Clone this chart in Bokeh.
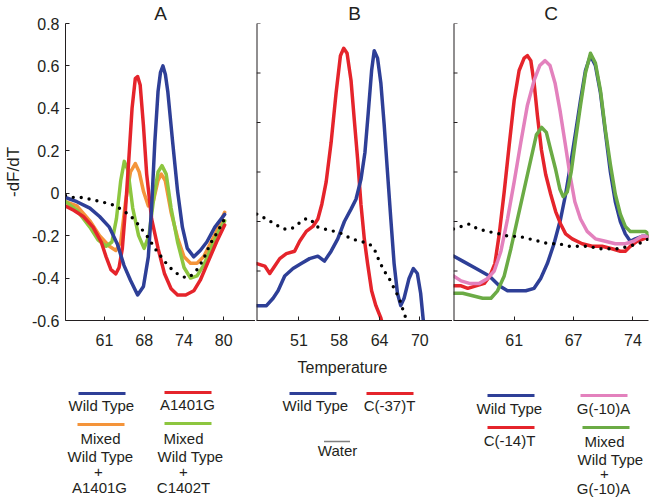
from bokeh.plotting import figure
from bokeh.layouts import row, column
from bokeh.models import Range1d, FixedTicker, Span, Title
from bokeh.embed import file_html
from bokeh.resources import INLINE
from bokeh.core.properties import value

FONT = "Liberation Sans"
INK = "#231f20"

BLUE = "#2e3f97"
RED = "#e5242b"
ORANGE = "#f4943a"
GREEN_A = "#8dc63f"
GREEN_C = "#6bab45"
PINK = "#e381bd"

# ---------------- Panel A ----------------
a_xticks = [61, 67.5, 74, 80.5]
a_xlabels = ["61", "68", "74", "80"]
a_yticks = [-0.6, -0.4, -0.2, 0, 0.2, 0.4, 0.6, 0.8]
a_ylabels = ["-0.6", "-0.4", "-0.2", "0", "0.2", "0.4", "0.6", "0.8"]

a_wt_t = [54.63, 56.49, 58.61, 60.20, 61.80, 63.12, 64.19, 65.25, 66.42, 67.37, 68.17, 68.70, 69.23,
          69.76, 70.16, 70.56, 70.96, 71.35, 72.15, 72.95, 73.74, 74.54, 75.60, 76.66, 77.73, 79.05, 80.65]
a_wt_v = [-0.02, -0.04, -0.07, -0.11, -0.16, -0.24, -0.34, -0.41, -0.48, -0.44, -0.30, -0.07, 0.24,
          0.48, 0.57, 0.60, 0.56, 0.48, 0.24, 0.01, -0.16, -0.26, -0.30, -0.27, -0.23, -0.16, -0.10]

a_mut_t = [54.63, 55.96, 57.55, 59.14, 60.47, 61.27, 62.06, 62.86, 63.39, 63.92, 64.45, 64.98, 65.51,
           66.04, 66.42, 66.84, 67.37, 67.90, 68.70, 69.76, 70.82, 71.89, 72.95, 74.28, 75.60, 76.66,
           77.99, 79.32, 80.65]
a_mut_v = [-0.06, -0.08, -0.11, -0.16, -0.23, -0.30, -0.36, -0.38, -0.35, -0.26, -0.07, 0.16, 0.40,
           0.54, 0.55, 0.51, 0.32, 0.09, -0.12, -0.26, -0.38, -0.45, -0.48, -0.48, -0.46, -0.41,
           -0.32, -0.23, -0.15]

a_mix1_t = [54.63, 56.49, 58.61, 60.20, 61.80, 62.86, 63.66, 64.45, 65.25, 66.04, 66.68, 67.37, 68.17,
            68.97, 69.76, 70.29, 70.93, 71.89, 72.95, 74.01, 75.07, 76.13, 77.20, 78.26, 79.32, 80.65]
a_mix1_v = [-0.04, -0.06, -0.13, -0.20, -0.25, -0.27, -0.23, -0.04, 0.10, 0.14, 0.10, 0.01, -0.06,
            -0.04, 0.06, 0.09, 0.06, -0.09, -0.21, -0.30, -0.33, -0.33, -0.30, -0.24, -0.18, -0.09]

a_mix2_t = [54.63, 56.49, 58.61, 59.94, 61.27, 62.22, 62.96, 63.66, 64.24, 64.82, 65.62, 66.58, 67.48,
            68.27, 69.07, 69.76, 70.40, 71.09, 71.89, 72.95, 74.01, 75.07, 76.13, 77.20, 78.26, 79.32, 80.65]
a_mix2_v = [-0.04, -0.08, -0.16, -0.22, -0.25, -0.23, -0.12, 0.06, 0.15, 0.11, -0.07, -0.20, -0.26,
            -0.20, -0.02, 0.10, 0.13, 0.09, -0.07, -0.23, -0.35, -0.40, -0.39, -0.34, -0.27, -0.20, -0.13]

a_water_t = [54.63, 55.96, 57.28, 58.88, 60.47, 61.80, 62.86, 63.92, 64.98, 66.04, 67.11, 68.17, 69.23,
             70.29, 71.35, 72.42, 73.48, 74.54, 75.60, 76.40, 77.20, 78.26, 79.32, 80.65]
a_water_v = [-0.01, -0.02, -0.02, -0.03, -0.04, -0.05, -0.06, -0.08, -0.10, -0.13, -0.17, -0.21, -0.26,
             -0.30, -0.34, -0.37, -0.39, -0.40, -0.38, -0.35, -0.31, -0.24, -0.19, -0.12]

# ---------------- Panel B ----------------
b_xticks = [51, 57.5, 64, 70.5]
b_xlabels = ["51", "58", "64", "70"]
bc_yticks = [-0.6, -0.4, -0.2, 0, 0.2, 0.4, 0.6]

b_wt_t = [44.2, 45.76, 46.83, 47.63, 48.70, 50.04, 51.37, 52.71, 54.05, 55.12, 56.19, 57.26, 58.33,
          59.40, 60.20, 61.00, 61.65, 62.18, 62.72, 63.14, 63.68, 64.21, 64.75, 65.28, 65.82, 66.35,
          66.89, 67.42, 67.96, 68.76, 69.46, 70.10, 70.63, 71.06, 71.28]
b_wt_v = [-0.54, -0.54, -0.51, -0.48, -0.42, -0.39, -0.37, -0.35, -0.34, -0.36, -0.32, -0.27, -0.20,
          -0.15, -0.11, -0.03, 0.08, 0.24, 0.41, 0.49, 0.46, 0.36, 0.19, 0.00, -0.19, -0.37,
          -0.49, -0.54, -0.51, -0.43, -0.39, -0.41, -0.49, -0.60, -0.65]

b_mut_t = [44.2, 45.49, 46.29, 47.10, 47.90, 48.97, 50.30, 51.11, 52.18, 53.25, 54.05, 54.69, 55.39,
           56.19, 56.99, 57.69, 58.22, 58.76, 59.40, 59.93, 60.47, 61.00, 61.54, 62.07, 62.72, 63.41,
           64.21, 64.75]
b_mut_v = [-0.37, -0.38, -0.41, -0.38, -0.35, -0.33, -0.32, -0.28, -0.24, -0.22, -0.19, -0.13, -0.04,
           0.12, 0.32, 0.47, 0.50, 0.48, 0.37, 0.21, 0.05, -0.13, -0.27, -0.37, -0.48, -0.54,
           -0.59, -0.64]

b_water_t = [44.2, 45.76, 47.10, 48.43, 49.77, 50.84, 51.91, 52.87, 53.78, 55.12, 56.72, 58.06, 59.40,
             61.00, 62.34, 63.14, 63.95, 64.75, 65.55, 66.35, 67.16, 67.69, 68.23, 68.49]
b_water_v = [-0.17, -0.19, -0.21, -0.23, -0.23, -0.21, -0.19, -0.19, -0.22, -0.23, -0.24, -0.25, -0.27,
             -0.28, -0.29, -0.31, -0.36, -0.40, -0.43, -0.47, -0.51, -0.55, -0.59, -0.61]

# ---------------- Panel C ----------------
c_xticks = [61, 67.5, 74]
c_xlabels = ["61", "67", "74"]

c_wt_t = [54.36, 55.37, 56.83, 58.28, 59.37, 60.27, 61.18, 62.27, 63.18, 63.90, 64.63, 65.36, 66.08,
          66.63, 67.17, 67.72, 68.26, 68.80, 69.35, 69.89, 70.44, 70.98, 71.53, 72.07, 72.62, 73.16,
          73.71, 74.25, 74.98, 75.70]
c_wt_v = [-0.34, -0.36, -0.39, -0.42, -0.46, -0.48, -0.48, -0.48, -0.47, -0.43, -0.37, -0.29, -0.19,
          -0.09, 0.03, 0.16, 0.29, 0.41, 0.47, 0.43, 0.32, 0.16, 0.00, -0.12, -0.20, -0.25,
          -0.28, -0.27, -0.26, -0.26]

c_m14_t = [54.36, 55.19, 55.92, 56.82, 57.73, 58.35, 58.89, 59.37, 59.91, 60.46, 61.00, 61.54, 62.09,
           62.45, 62.82, 63.18, 63.54, 63.98, 64.45, 65.00, 65.54, 66.08, 66.63, 67.35, 68.44, 69.53,
           70.62, 71.71, 72.62, 73.16, 73.71, 74.43, 75.16, 75.70]
c_m14_v = [-0.46, -0.46, -0.47, -0.46, -0.45, -0.42, -0.37, -0.25, -0.08, 0.11, 0.29, 0.41, 0.46,
           0.47, 0.45, 0.36, 0.23, 0.09, -0.01, -0.09, -0.16, -0.21, -0.25, -0.27, -0.29, -0.30,
           -0.30, -0.31, -0.32, -0.32, -0.30, -0.28, -0.27, -0.26]

c_m10_t = [54.36, 55.19, 56.10, 57.19, 58.10, 58.82, 59.55, 60.27, 61.00, 61.73, 62.45, 63.18, 63.80,
           64.38, 64.92, 65.47, 66.01, 66.56, 67.10, 67.64, 68.26, 68.99, 69.89, 70.98, 72.07, 73.16,
           74.07, 74.98, 75.70]
c_m10_v = [-0.42, -0.44, -0.45, -0.45, -0.43, -0.40, -0.32, -0.19, -0.04, 0.12, 0.27, 0.37, 0.43,
           0.45, 0.43, 0.36, 0.25, 0.12, -0.01, -0.12, -0.19, -0.24, -0.27, -0.28, -0.29, -0.29,
           -0.28, -0.26, -0.26]

c_mix_t = [54.36, 55.37, 56.46, 57.55, 58.46, 59.18, 59.91, 60.64, 61.36, 62.09, 62.82, 63.43, 64.01,
           64.52, 64.99, 65.54, 66.01, 66.37, 66.81, 67.24, 67.72, 68.26, 68.80, 69.35, 69.89, 70.44,
           70.98, 71.53, 72.07, 72.62, 73.16, 73.71, 74.61, 75.34, 75.70]
c_mix_v = [-0.49, -0.49, -0.50, -0.51, -0.51, -0.48, -0.42, -0.31, -0.19, -0.07, 0.05, 0.15, 0.18,
           0.16, 0.09, 0.01, -0.07, -0.10, -0.08, 0.00, 0.13, 0.27, 0.40, 0.48, 0.44, 0.33,
           0.17, 0.03, -0.09, -0.17, -0.22, -0.24, -0.24, -0.24, -0.25]

c_water_t = [54.36, 55.19, 56.10, 57.01, 58.10, 59.37, 60.46, 61.54, 62.63, 63.72, 64.81, 65.90, 66.99,
             68.08, 69.17, 70.26, 71.35, 72.44, 73.52, 74.61, 75.70]
c_water_v = [-0.23, -0.22, -0.21, -0.23, -0.24, -0.25, -0.26, -0.26, -0.27, -0.28, -0.29, -0.29, -0.30,
             -0.30, -0.30, -0.31, -0.31, -0.31, -0.30, -0.29, -0.27]


def make_panel(width, border_left, border_right, xr, yr, xticks, xlabels, yticks, ylabels,
               ttext, toffset):
    p = figure(width=width, height=350, x_range=Range1d(*xr), y_range=Range1d(*yr),
               output_backend="svg", toolbar_location=None, title=None,
               min_border_left=border_left, min_border_right=border_right,
               min_border_top=20, min_border_bottom=30)
    p.add_layout(Title(text=ttext, align="center", offset=toffset, text_font=FONT,
                       text_font_size="19px", text_font_style="normal", text_color=INK,
                       standoff=0), "above")
    p.outline_line_color = None
    p.grid.visible = False
    for ax in (p.xaxis[0], p.yaxis[0]):
        ax.axis_line_color = INK
        ax.axis_line_width = 1
        ax.major_tick_line_color = INK
        ax.major_tick_in = 4
        ax.major_tick_out = 0
        ax.minor_tick_line_color = None
        ax.major_label_text_font = FONT
        ax.major_label_text_color = INK
    p.xaxis.ticker = FixedTicker(ticks=xticks)
    p.xaxis.major_label_overrides = dict(zip(xticks, xlabels))
    p.xaxis.major_label_text_font_size = "16px"
    p.xaxis.major_label_standoff = 13
    if ylabels is None:
        p.yaxis.visible = False
        p.add_layout(Span(location=xr[0], dimension="height", line_color=INK, line_width=2))
        p.ray(x=[xr[0]] * len(yticks), y=yticks, length=4, length_units="screen", angle=0,
              line_color=INK, line_width=1)
    else:
        p.yaxis.ticker = FixedTicker(ticks=yticks)
        p.yaxis.major_label_overrides = dict(zip(yticks, ylabels))
        p.yaxis.major_label_text_font_size = "16px"
        p.yaxis.major_label_standoff = 6
        p.yaxis.axis_label = "-dF/dT"
        p.yaxis.axis_label_text_font = FONT
        p.yaxis.axis_label_text_font_size = "17px"
        p.yaxis.axis_label_text_font_style = "normal"
        p.yaxis.axis_label_text_color = INK
        p.yaxis.axis_label_standoff = 6
    return p


def curve(p, t, v, color):
    p.line(t, v, line_color=color, line_width=3.5, line_join="round", line_cap="round")


def water(p, t, v):
    p.line(t, v, line_color="black", line_width=3.4, line_dash="0 8", line_cap="round")


# Panel A
pA = make_panel(255, 60, 0, (54.63, 85.69), (-0.6, 0.8), a_xticks, a_xlabels, a_yticks, a_ylabels,
                "A", -4)
curve(pA, a_mix1_t, a_mix1_v, ORANGE)
curve(pA, a_mix2_t, a_mix2_v, GREEN_A)
curve(pA, a_mut_t, a_mut_v, RED)
curve(pA, a_wt_t, a_wt_v, BLUE)
water(pA, a_water_t, a_water_v)

# Panel B
pB = make_panel(197, 1, 0, (44.15, 75.77), (-0.6, 0.6), b_xticks, b_xlabels, bc_yticks, None,
                "B", -16)
curve(pB, b_mut_t, b_mut_v, RED)
curve(pB, b_wt_t, b_wt_v, BLUE)
water(pB, b_water_t, b_water_v)

# Panel C
pC = make_panel(198, 1, 2, (54.36, 75.70), (-0.6, 0.6), c_xticks, c_xlabels, bc_yticks, None,
                "C", -3)
curve(pC, c_wt_t, c_wt_v, BLUE)
curve(pC, c_m14_t, c_m14_v, RED)
curve(pC, c_m10_t, c_m10_v, PINK)
curve(pC, c_mix_t, c_mix_v, GREEN_C)
water(pC, c_water_t, c_water_v)

# Legend / label strip (coordinates are page pixels)
pL = figure(width=650, height=148, x_range=Range1d(0, 650), y_range=Range1d(498, 350),
            x_axis_type=None, y_axis_type=None, output_backend="svg", toolbar_location=None,
            min_border=0, title=None)
pL.outline_line_color = None
pL.grid.visible = False

leg_colors = [BLUE, RED, ORANGE, GREEN_A, BLUE, RED, BLUE, PINK, RED, GREEN_C]
leg_x0 = [78, 164, 77, 164, 289, 366, 487, 580, 487, 582]
leg_y = [393, 392, 424, 423, 393, 393, 395, 395, 427, 427]
leg_x1 = [x + 47 for x in leg_x0]
pL.segment(x0=leg_x0, y0=leg_y, x1=leg_x1, y1=leg_y, line_color=leg_colors, line_width=3)
pL.segment(x0=[324], y0=[441], x1=[350], y1=[441], line_color="black", line_width=1.6,
           line_dash="1 1", line_cap="butt")

leg_text = ["Temperature",
            "Wild Type", "A1401G",
            "Mixed", "Wild Type", "+", "A1401G",
            "Mixed", "Wild Type", "+", "C1402T",
            "Wild Type", "C(-37)T", "Water",
            "Wild Type", "G(-10)A", "C(-14)T",
            "Mixed", "Wild Type", "+", "G(-10)A"]
leg_tx = [342,
          101, 187,
          100, 100, 98, 99,
          183, 190, 183, 183,
          315, 389, 337,
          509, 603, 509,
          604, 610, 604, 603]
leg_ty = [367,
          405, 404,
          438, 456, 471, 487,
          438, 456, 471, 487,
          405, 405, 450,
          408, 408, 440,
          441, 459, 473, 488]
pL.text(x=leg_tx[:1], y=leg_ty[:1], text=leg_text[:1], text_font=value(FONT), text_font_size="16px",
        text_color=INK, text_align="center", text_baseline="middle")
pL.text(x=leg_tx[1:], y=leg_ty[1:], text=leg_text[1:], text_font=value(FONT), text_font_size="15px",
        text_color=INK, text_align="center", text_baseline="middle")

layout = column(row(pA, pB, pC, spacing=0), pL, spacing=0)

open("out.html", "w").write(file_html(layout, INLINE))
